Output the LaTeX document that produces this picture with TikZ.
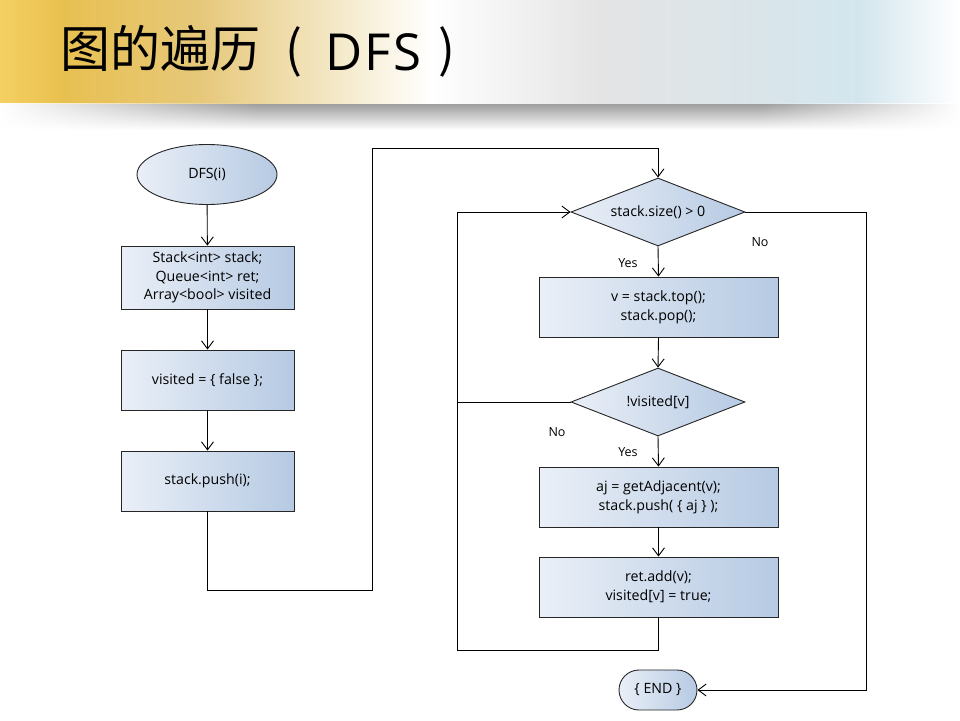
\documentclass[tikz,border=0pt]{standalone}
\usepackage{fontspec}
\setmainfont{Open Sans}
\newfontfamily\cjk{Noto Sans CJK SC}
\usetikzlibrary{arrows.meta,shapes.geometric,shapes.misc,fadings,calc}
\definecolor{boxL}{HTML}{EAEFF7}
\definecolor{boxR}{HTML}{B6CAE3}
\definecolor{hA}{HTML}{F4D062}
\definecolor{hB}{HTML}{E8C050}
\definecolor{hC}{HTML}{E6C87A}
\definecolor{hD}{HTML}{F3E7C4}
\definecolor{hE}{HTML}{E4E4E4}
\definecolor{hF}{HTML}{D3E6EE}
\tikzset{
  flow/.style={draw=black!85, line width=0.9pt, left color=boxL, right color=boxR, align=center, inner sep=0pt, font=\fontsize{14.2}{18.8}\selectfont},
  procbox/.style={flow, rectangle, minimum height=60pt},
  leftbox/.style={procbox, minimum width=173pt},
  rightbox/.style={procbox, minimum width=239pt},
  decision/.style={flow, diamond, aspect=2.56, minimum width=174pt, minimum height=68pt},
  startnode/.style={flow, ellipse, minimum width=140pt, minimum height=60pt},
  endnode/.style={flow, rounded rectangle, minimum width=78pt, minimum height=40pt},
  conn/.style={line width=0.9pt, draw=black},
  arr/.style={conn, -{Straight Barb[length=8pt,width=12pt,line width=0.9pt]}},
  lbl/.style={font=\fontsize{12.5}{14}\selectfont, inner sep=0pt},
  ttl/.style={anchor=base west, inner sep=0pt, font=\cjk\fontsize{50}{50}\selectfont},
  ttllat/.style={anchor=base west, inner sep=0pt, font=\fontsize{51}{51}\selectfont}
}
\begin{document}
\begin{tikzpicture}[x=1pt,y=1pt]
\useasboundingbox (0,0) rectangle (960,-720);
\fill[white] (0,0) rectangle (960,-720);
% header band
\shade[left color=hA, right color=hB] (0,0) rectangle (61,-103);
\shade[left color=hB, right color=hC] (60,0) rectangle (201,-103);
\shade[left color=hC, right color=hD] (200,0) rectangle (331,-103);
\shade[left color=hD, right color=white] (330,0) rectangle (431,-103);
\shade[left color=white, right color=hE] (430,0) rectangle (601,-103);
\shade[left color=hE, right color=hF] (600,0) rectangle (861,-103);
\shade[left color=hF, right color=white] (860,0) rectangle (960,-103);
% shadow
\shade[top color=black!38, bottom color=white] (0,-104) rectangle (960,-130);
\fill[white, path fading=east] (0,-103.5) rectangle (260,-131);
\fill[white, path fading=west] (760,-103.5) rectangle (960,-131);
% title
\node[ttl] (t1) at (60,-67) {图的遍历};
\node[ttl] (t2) at (285,-67) {(};
\node[ttllat] (t3) at (325,-70) {D\hspace{2pt}F\hspace{3pt}S};
\node[ttl] (t4) at (438,-67) {)};

% left column
\node[startnode] (start) at (207,-174.5) {DFS(i)};
\node[leftbox, minimum height=63pt] (b1) at (207.5,-277.5) {Stack<int> stack;\\Queue<int> ret;\\Array<bool> visited};
\node[leftbox] (b2) at (207.5,-380) {visited = \{ false \};};
\node[leftbox] (b3) at (207.5,-481) {stack.push(i);};

% right column
\node[decision] (d1) at (658,-212) {stack.size() > 0};
\node[rightbox] (b4) at (658.5,-307) {v = stack.top();\\stack.pop();};
\node[decision] (d2) at (658,-402) {!visited[v]};
\node[rightbox] (b5) at (658.5,-497) {aj = getAdjacent(v);\\stack.push( \{ aj \} );};
\node[rightbox] (b6) at (658.5,-587) {ret.add(v);\\visited[v] = true;};
\node[endnode] (fin) at (658,-690) {\{ END \}};

\coordinate (p1) at (372,-590);
\coordinate (p2) at (372,-148);
\coordinate (q1) at (457,-650);
\coordinate (r1) at (866,-690);

\draw[arr] (start) -- (b1);
\draw[arr] (b1) -- (b2);
\draw[arr] (b2) -- (b3);
\draw[arr] (b3.south) |- (p1) -- (p2) -| (d1.north);
\draw[arr] (d1.south) -- (b4.north);
\draw[arr] (b4.south) -- (d2.north);
\draw[arr] (d2.south) -- (b5.north);
\draw[arr] (b5.south) -- (b6.north);
\draw[arr] (b6.south) |- (q1) |- (d1.west);
\draw[conn] (d2.west) -- (d2.west -| q1);
\draw[arr] (d1.east) -| (r1) -- (fin.east);

\node[lbl] (no1) at (760,-242) {No};
\node[lbl] (yes1) at (628,-263) {Yes};
\node[lbl] (no2) at (557,-432) {No};
\node[lbl] (yes2) at (628,-452) {Yes};
\end{tikzpicture}
\end{document}
